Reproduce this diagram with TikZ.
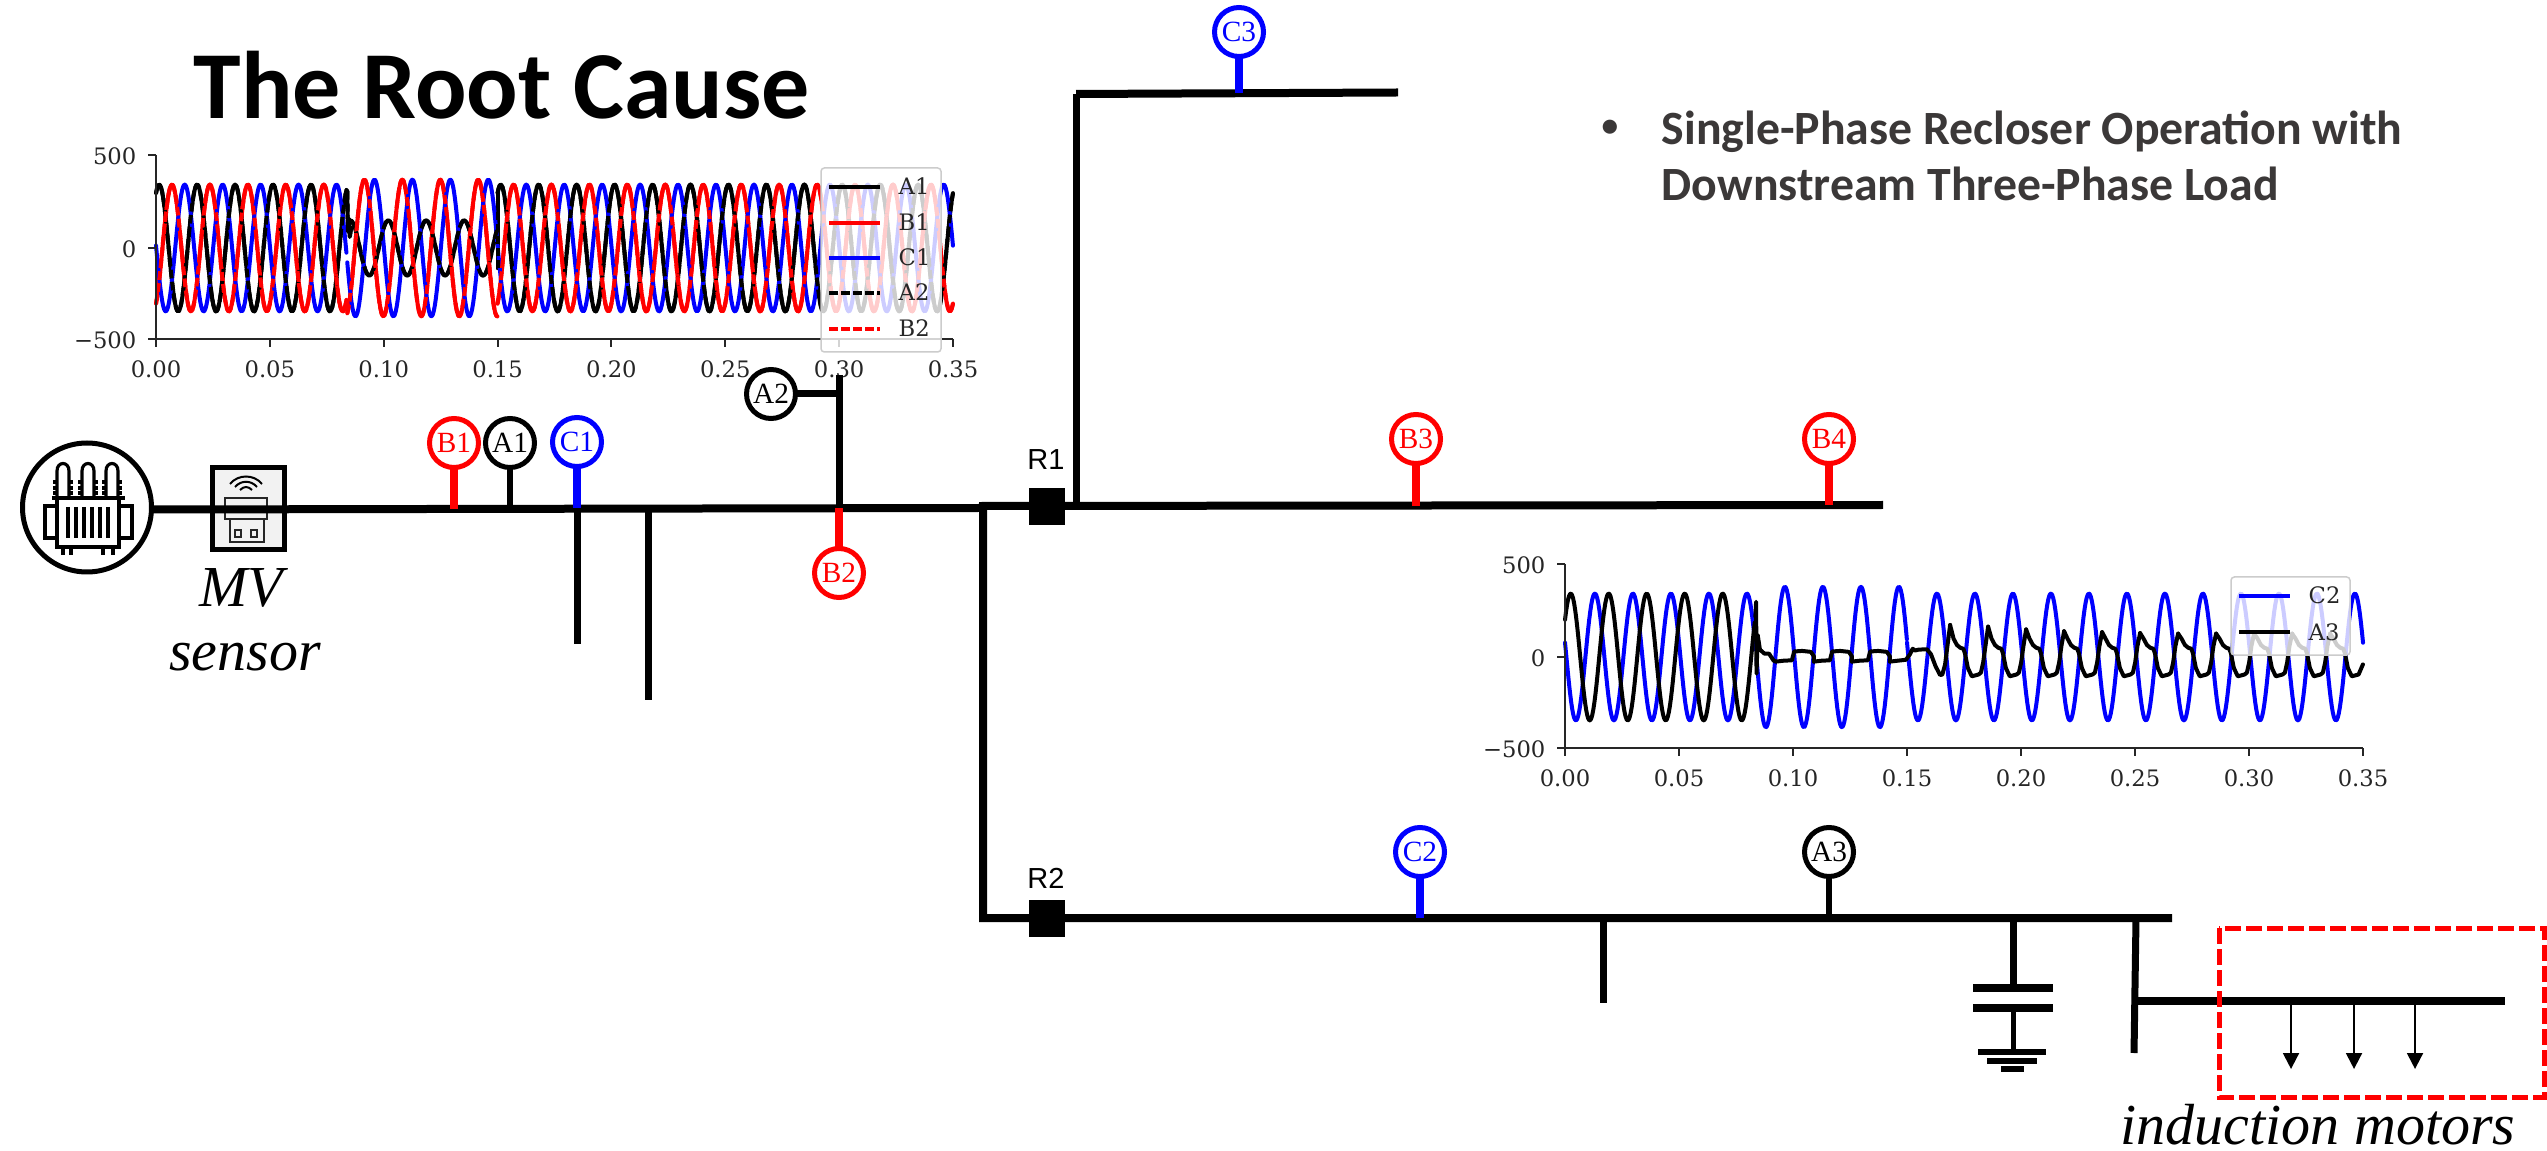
\documentclass[tikz,border=0pt]{standalone}
\usepackage{fontspec}
\setmainfont{Liberation Serif}
\newfontfamily\calfont{Carlito}
\newfontfamily\tickfont{DejaVu Serif}
\newfontfamily\rfont{Liberation Sans}
\usetikzlibrary{arrows.meta}
\newcommand\fsz[1]{\fontsize{#1}{#1}\selectfont}
\definecolor{bullettxt}{HTML}{3B3838}
\tikzset{
  bus/.style={line width=2.4pt,line join=miter,black},
  stub/.style={line width=2.1pt,black},
  rstem/.style={line width=2.4pt,red},
  bstem/.style={line width=2.4pt,blue},
  kstem/.style={line width=1.9pt,black},
  probe/.style={circle,draw,fill=white,line width=1.5pt,minimum size=14.7pt,inner sep=0pt,outer sep=0pt,font=\fsz{8.8pt}},
  recl/.style={rectangle,fill=black,minimum width=10.8pt,minimum height=11pt,inner sep=0pt},
  rlabel/.style={anchor=base,font=\rfont\fsz{8.7pt}},
  itlabel/.style={anchor=base,font=\itshape\fsz{17.4pt}},
  ticklab/.style={font=\tickfont\fsz{6.8pt},text=black!85,inner sep=0pt},
  leglab/.style={anchor=base west,font=\tickfont\fsz{6.8pt},text=black!85,inner sep=0pt},
  wk/.style={line width=1.2pt,black,line join=round,line cap=round},
  wr/.style={line width=1.2pt,red,line join=round,line cap=round},
  wb/.style={line width=1.2pt,blue,line join=round,line cap=round},
  wkd/.style={wk,line cap=butt,dash pattern=on 2.6pt off 1pt},
  wrd/.style={wr,line cap=butt,dash pattern=on 2.6pt off 1pt},
  legbox/.style={draw=black!20,fill=white,fill opacity=.8,line width=.45pt,rounded corners=1pt},
  icon/.style={line width=.95pt,black,line join=miter},
  spine/.style={line width=.6pt,black!85},
}
\newcommand\Wave[5]{%
  \pgfmathtruncatemacro\Ns{(#3-#2)*2200+2}%
  \draw[#1] plot[domain=#2:#3,samples=\Ns,variable=\t] (\t,{#4*cos(360*(60*(\t-#5)))});}
\newcommand\AFault[1]{%
  \Wave{#1}{0}{0.084}{345}{0.0014}
  \draw[#1] (0.084,310) -- (0.0843,90) -- (0.0847,160) -- (0.0851,60) -- (0.0857,110);
  \Wave{#1}{0.0857}{0.15}{150}{0.1020}
  \draw[#1] (0.15,-110) -- (0.15,300);
  \Wave{#1}{0.15}{0.35}{345}{0.0014}}
\newcommand\BFault[1]{%
  \Wave{#1}{0}{0.084}{345}{0.0070}
  \Wave{#1}{0.084}{0.15}{372}{0.0082}
  \Wave{#1}{0.15}{0.35}{345}{0.0070}}
\newcommand\Axes[6]{% x0,x1,ytop,y0,ybot,prefix
  \draw[spine] (#1,#3) -- (#1,#5);
  \draw[spine] (#1,#5) -- (#2,#5);
  \foreach \yy/\lab/\nn in {#3/500/a,#4/0/b,#5/−500/c}{
    \draw[spine] (#1-8,\yy) -- (#1,\yy);
    \node[ticklab,anchor=east] (#6y\nn) at (#1-19,\yy+1) {\lab};
  }
  \foreach \i/\lab in {0/0.00,1/0.05,2/0.10,3/0.15,4/0.20,5/0.25,6/0.30,7/0.35}{
    \pgfmathsetmacro\xx{#1+\i*(#2-#1)/7}
    \draw[spine] (\xx,#5) -- (\xx,#5+8);
    \node[ticklab,anchor=center] (#6x\i) at (\xx,#5+30) {\lab};
  }}
\begin{document}
\begin{tikzpicture}[x=0.3pt,y=-0.3pt]
\useasboundingbox (0,0) rectangle (2547,1151);
\fill[white] (0,0) rectangle (2547,1151);

% ---------- title and bullet
\node[anchor=base west,inner sep=0pt,font=\calfont\bfseries\fsz{28.8pt}] (title) at (193,119) {The Root Cause};
\node[anchor=center,inner sep=0pt,font=\calfont\bfseries\fsz{10pt},text=bullettxt] (bul) at (1610,128) {•};
\node[anchor=base west,inner sep=0pt,font=\calfont\bfseries\fsz{14.33pt},text=bullettxt] (t1) at (1661,145) {Single-Phase Recloser Operation with};
\node[anchor=base west,inner sep=0pt,font=\calfont\bfseries\fsz{14.33pt},text=bullettxt] (t2) at (1661,201) {Downstream Three-Phase Load};

% ---------- plot 1
\begin{scope}[shift={(156,248)},x=683.1pt,y=0.0552pt]
  \AFault{wk}
  \BFault{wr}
  \Wave{wb}{0}{0.084}{345}{0.0126}
  \Wave{wb}{0.084}{0.15}{372}{0.0126}
  \Wave{wb}{0.15}{0.35}{345}{0.0126}
  \AFault{wkd}
  \BFault{wrd}
\end{scope}
\Axes{156}{953}{155}{248}{339}{p}
\draw[legbox] (821,168) rectangle (941,352);
\foreach \yy/\sty/\lab/\nn in {187/wk/A1/a,223/wr/B1/b,258/wb/C1/c,293/wkd/A2/d,329/wrd/B2/e}{
  \draw[\sty,line cap=butt] (829,\yy) -- (880,\yy);
  \node[leglab] (pl\nn) at (898,\yy+8) {\lab};
}

% ---------- plot 2
\begin{scope}[shift={(1565,657)},x=684pt,y=0.0552pt]
  \Wave{wb}{0}{0.084}{345}{0.0131}
  \Wave{wb}{0.084}{0.15}{382}{0.0131}
  \Wave{wb}{0.15}{0.35}{345}{0.0131}
  \Wave{wk}{0}{0.0835}{345}{0.0025}
  \draw[wk] (0.0835,219) -- (0.0838,300) -- (0.0840,-90) -- (0.0845,120) -- (0.0855,40) -- (0.0875,18) -- (0.0895,18) -- (0.0915,-20) -- (0.0925,-25);
  \foreach \k in {0,1,2}{
    \draw[wk,shift={({\k/60},0)}] (0.0925,-25) -- (0.0960,-20) -- (0.0995,-18) -- (0.1005,30) -- (0.1040,33) -- (0.1078,28) -- (0.1091,5) -- (0.1092,-25);
  }
  \draw[wk] (0.1425,-25) -- (0.1495,-15) -- (0.1513,15) -- (0.1525,45) -- (0.1535,35) -- (0.1550,40) -- (0.1587,42) -- (0.1605,15) -- (0.1625,-50) -- (0.1645,-98) -- (0.1655,-95) -- (0.1667,-40) -- (0.1689,174);
  \foreach \k/\pk/\nk in {0/174/165,1/165/150,2/150/140,3/140/135,4/135/130,5/130/127,6/127/127,7/127/127,8/127/127,9/127/127}{
    \draw[wk,shift={({0.1689+\k/60},0)}] (0,\pk) -- (0.0015,100) -- (0.0030,65) -- (0.0045,50) -- (0.0058,45) -- (0.0065,20) -- (0.0078,-60) -- (0.0095,-105) -- (0.0125,-95) -- (0.0135,-85) -- (0.0145,-30) -- (0.0155,60) -- (0.01667,\nk);
  }
  \draw[wk,shift={({0.1689+10/60},0)}] (0,127) -- (0.0015,100) -- (0.0030,65) -- (0.0045,50) -- (0.0058,45) -- (0.0065,20) -- (0.0078,-60) -- (0.0095,-105) -- (0.0125,-95) -- (0.0144,-40);
\end{scope}
\Axes{1565}{2363}{564}{657}{748}{q}
\draw[legbox] (2231,577) rectangle (2350,655);
\foreach \yy/\sty/\lab/\nn in {596/wb/C2/a,632/wk/A3/b}{
  \draw[\sty,line cap=butt] (2239,\yy) -- (2290,\yy);
  \node[leglab] (ql\nn) at (2308,\yy+8) {\lab};
}

% ---------- sensor and transformer
\node[rectangle,draw=black,fill=black!5,line width=1.5pt,minimum width=21.6pt,minimum height=24.6pt,inner sep=0pt] (sensor) at (248.5,508.5) {};
\draw[line width=.6pt] (230,484) .. controls (238,474) and (254,474) .. (262,484);
\draw[line width=.6pt] (235,487) .. controls (241,480) and (251,480) .. (257,487);
\draw[line width=.6pt] (240,490) .. controls (244,486) and (248,486) .. (252,490);
\draw[line width=.6pt,black!85] (225,498) rectangle (267,519);
\draw[line width=.6pt,black!85] (230,519) rectangle (264,542);
\draw[line width=.6pt,black!85] (235,530) rectangle (241,537);
\draw[line width=.6pt,black!85] (251,530) rectangle (257,537);

\node[circle,draw=black,fill=white,line width=1.5pt,minimum size=38.7pt,inner sep=0pt,outer sep=0pt] (tr) at (87,507.5) {};
\draw[icon] (57,498) rectangle (119,547);
\draw[icon] (52,498) -- (125,498);
\draw[icon] (45,506) rectangle (57,538);
\draw[icon] (119,506) rectangle (132,538);
\foreach \f in {68,76,84,92,100,108}{ \draw[line width=1.05pt] (\f,507) -- (\f,538); }
\foreach \b in {63,88,112}{
  \draw[icon] ({\b-6},498) -- ({\b-6},471) .. controls ({\b-6},461) and ({\b+6},461) .. ({\b+6},471) -- ({\b+6},498);
  \foreach \q in {482,488,493}{
    \draw[icon] ({\b-10},\q) -- ({\b-6},\q);
    \draw[icon] ({\b+6},\q) -- ({\b+10},\q);
  }
}
\foreach \f in {63,71,103,113}{ \draw[icon] (\f,547) -- (\f,555); }

\node[itlabel] (mv) at (241,606) {MV};
\node[itlabel] (sens) at (245,670) {sensor};

% ---------- coordinates on the network
\coordinate (busEnd) at (979,508);
\coordinate (jb1) at (454,509);
\coordinate (ja1) at (510,509);
\coordinate (jc1) at (577,508);
\coordinate (sub1t) at (577,508);
\coordinate (sub1b) at (577,644);
\coordinate (sub2t) at (648,508);
\coordinate (sub2b) at (648,700);
\coordinate (ja2b) at (839,508);
\coordinate (ja2t) at (839,375);
\coordinate (ja2h) at (839,394);
\coordinate (r1End) at (1883,505);
\coordinate (cornerA) at (983,506);
\coordinate (cornerB) at (983,918);
\coordinate (r2End) at (2172,918);
\coordinate (c3Base) at (1076,506);
\coordinate (c3Top) at (1076,94);
\coordinate (c3End) at (1398,92.5);
\coordinate (jc3) at (1239,93);
\coordinate (jb3) at (1416,506);
\coordinate (jb4) at (1829,505);
\coordinate (jc2) at (1420,918);
\coordinate (ja3) at (1829,918);
\coordinate (s3t) at (1603,918);
\coordinate (s3b) at (1603,1003);
\coordinate (capT) at (2013,918);
\coordinate (capB) at (2013,988);
\coordinate (capC) at (2013,1008);
\coordinate (capG) at (2013,1052);
\coordinate (mfT) at (2136,918);
\coordinate (mfB) at (2134,1053);
\coordinate (mbL) at (2135,1001);
\coordinate (mbR) at (2505,1001);

% ---------- network lines
\draw[bus] ([yshift=-0.6pt]tr.east) -- (busEnd);
\draw[stub] (sub1t) -- (sub1b);
\draw[stub] (sub2t) -- (sub2b);
\draw[stub] (ja2t) -- (ja2b);
\draw[bus] (r1End) -- (cornerA) -- (cornerB) -- (r2End);
\draw[stub] (c3Base) -- (c3Top);
\draw[bus] (c3Top) -- (c3End);
\draw[stub] (s3t) -- (s3b);
\draw[stub] (capT) -- (capB);
\draw[line width=1.5pt] (capC) -- (capG);
\draw[bus] (1973,988) -- (2053,988);
\draw[bus] (1973,1008) -- (2053,1008);
\draw[line width=1.8pt] (1978,1052) -- (2046,1052);
\draw[line width=1.8pt] (1987,1060.5) -- (2037,1060.5);
\draw[line width=1.8pt] (2001,1069) -- (2024,1069);
\draw[stub] (mfT) -- (mfB);
\draw[bus] (mbL) -- (mbR);

% ---------- reclosers
\node[recl] (r1) at (1047,506.5) {};
\node[recl] (r2) at (1047,918.5) {};
\node[rlabel] (r1l) at (1046,470) {R1};
\node[rlabel] (r2l) at (1046,888) {R2};

% ---------- motors
\foreach \m/\x in {a/2291,b/2354,c/2415}{
  \coordinate (mt\m) at (\x,1001);
  \coordinate (mb\m) at (\x,1069);
  \draw[line width=.6pt,-{Triangle[width=4.8pt,length=4.8pt]}] (mt\m) -- (mb\m);
}
\draw[red,line width=1.5pt,dash pattern=on 4.8pt off 1.5pt] (2219,928) rectangle (2544,1097);
\node[itlabel] (ind) at (2318,1144) {induction motors};

% ---------- probes
\node[probe,draw=red,text=red] (b1) at (454,443) {B1};
\node[probe,draw=black] (a1) at (510,443) {A1};
\node[probe,draw=blue,text=blue] (c1) at (577,442) {C1};
\node[probe,draw=black] (a2) at (771,394) {A2};
\node[probe,draw=red,text=red] (b2) at (839,573) {B2};
\node[probe,draw=blue,text=blue] (c3) at (1239,32) {C3};
\node[probe,draw=red,text=red] (b3) at (1416,439) {B3};
\node[probe,draw=red,text=red] (b4) at (1829,439) {B4};
\node[probe,draw=blue,text=blue] (c2) at (1420,852) {C2};
\node[probe,draw=black] (a3) at (1829,852) {A3};
\draw[rstem] (b1) -- (jb1);
\draw[kstem] (a1) -- (ja1);
\draw[bstem] (c1) -- (jc1);
\draw[stub] (a2) -- (ja2h);
\draw[rstem] (b2) -- (ja2b);
\draw[bstem] (c3) -- (jc3);
\draw[rstem] (b3) -- (jb3);
\draw[rstem] (b4) -- (jb4);
\draw[bstem] (c2) -- (jc2);
\draw[kstem] (a3) -- (ja3);
\end{tikzpicture}
\end{document}
